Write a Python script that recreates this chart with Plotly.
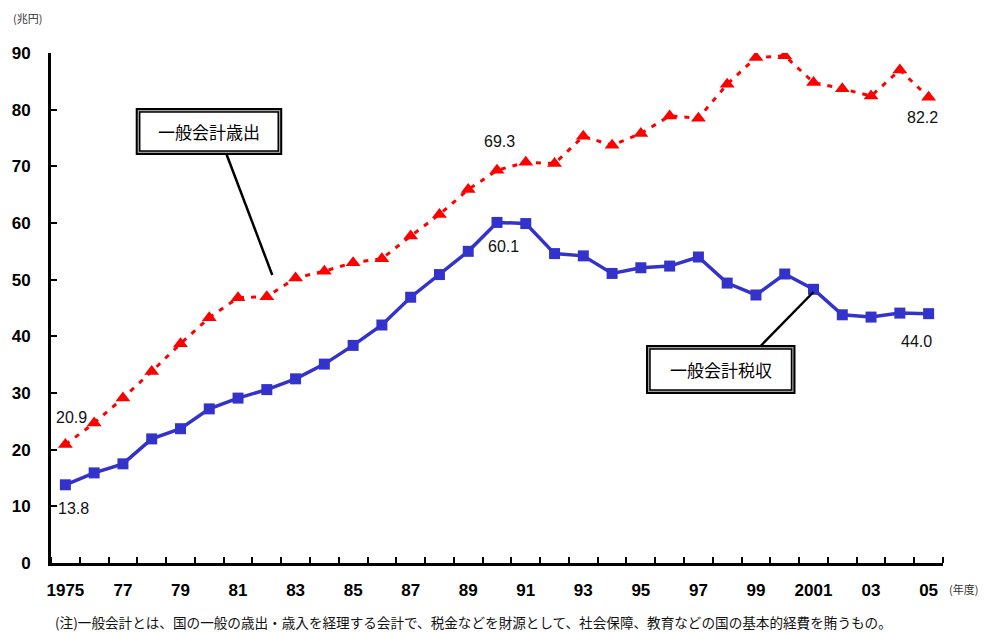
import plotly.graph_objects as go

# Fiscal years 1975-2005
years = list(range(1975, 2006))

# General account expenditure (trillion yen)
expenditure = [20.9, 24.7, 29.1, 33.8, 38.7, 43.3, 46.8, 47.0, 50.3, 51.5,
               53.0, 53.7, 57.7, 61.5, 65.9, 69.3, 70.7, 70.5, 75.3, 73.7,
               75.8, 78.9, 78.5, 84.5, 89.2, 89.5, 84.8, 83.7, 82.4, 87.0,
               82.2]

# General account tax revenue (trillion yen)
tax_revenue = [13.8, 15.9, 17.5, 21.9, 23.7, 27.2, 29.1, 30.6, 32.5, 35.1,
               38.4, 42.0, 46.9, 50.9, 55.0, 60.1, 59.9, 54.6, 54.2, 51.1,
               52.1, 52.4, 54.0, 49.4, 47.3, 51.0, 48.3, 43.8, 43.4, 44.1,
               44.0]

# Axis labels
x_tick_years = list(range(1975, 2006, 2))
x_tick_text = ["1975", "77", "79", "81", "83", "85", "87", "89", "91", "93",
               "95", "97", "99", "2001", "03", "05"]
y_ticks = list(range(0, 91, 10))

exp_name = "一般会計歳出"
rev_name = "一般会計税収"
footnote = ("(注)一般会計とは、国の一般の歳出・歳入を経理する会計で、"
            "税金などを財源として、社会保障、教育などの国の基本的経費を賄うもの。")

NUM_FONT = "Liberation Sans Narrow, Liberation Sans, Arial"
JP_FONT = "Noto Sans CJK JP"

fig = go.Figure()

fig.add_trace(go.Scatter(
    x=years, y=expenditure, mode="lines+markers", name=exp_name,
    line=dict(color="#FF0000", width=3, dash="5px,7px"),
    marker=dict(symbol="triangle-up", size=13, color="#FF0000"),
))
fig.add_trace(go.Scatter(
    x=years, y=tax_revenue, mode="lines+markers", name=rev_name,
    line=dict(color="#3333CC", width=3.5),
    marker=dict(symbol="square", size=11, color="#3333CC"),
))

# Value labels on selected points
def value_label(x, y, dx, dy):
    fig.add_annotation(x=x, y=y, text=f"{y:.1f}", showarrow=False,
                       xshift=dx, yshift=dy,
                       font=dict(family=NUM_FONT, size=16, color="#111"))

i90 = years.index(1990)
value_label(years[0], expenditure[0], 6, 27)
value_label(years[0], tax_revenue[0], 8, -24)
value_label(years[i90], expenditure[i90], 2, 29)
value_label(years[i90], tax_revenue[i90], 6, -24)
value_label(years[-1], expenditure[-1], -6, -20)
value_label(years[-1], tax_revenue[-1], -12, -28)

# Pixel helpers for the plot area (48..943 x, 53..563 y)
L, R, T, B = 48, 943, 53, 563
def px(x):
    return (x - L) / (R - L)
def py(y):
    return (B - y) / (B - T)

def paper_text(x, y, text, size, color, xanchor="center", family=JP_FONT):
    fig.add_annotation(xref="paper", yref="paper", x=px(x), y=py(y),
                       xanchor=xanchor, yanchor="middle",
                       text=text, showarrow=False,
                       font=dict(family=family, size=size, color=color))

def callout(x0, y0, x1, y1, text, lx0, ly0, lx1, ly1):
    # leader line
    fig.add_shape(type="line", xref="paper", yref="paper",
                  x0=px(lx0), y0=py(ly0), x1=px(lx1), y1=py(ly1),
                  line=dict(color="black", width=2.5))
    # double-framed box
    fig.add_shape(type="rect", xref="paper", yref="paper",
                  x0=px(x0), y0=py(y1), x1=px(x1), y1=py(y0),
                  fillcolor="#A0A0A0", line=dict(color="black", width=2))
    fig.add_shape(type="rect", xref="paper", yref="paper",
                  x0=px(x0 + 3), y0=py(y1 - 3), x1=px(x1 - 3), y1=py(y0 + 3),
                  fillcolor="white", line=dict(color="black", width=1.5))
    paper_text((x0 + x1) / 2, (y0 + y1) / 2, text, 17, "black")

callout(134, 109, 279, 154, exp_name, 224, 154, 270, 275)
callout(646, 346, 794, 393, rev_name, 760, 346, 813, 292)

# Unit labels and footnote
paper_text(8, 18, "(兆円)", 11, "#333", xanchor="left")
paper_text(947, 589, "(年度)", 11, "#333", xanchor="left")
paper_text(50, 622, footnote, 13.6, "#111", xanchor="left")

fig.update_layout(
    width=984, height=633,
    margin=dict(l=L, r=984 - R, t=T, b=633 - B),
    paper_bgcolor="white", plot_bgcolor="white",
    showlegend=False,
    xaxis=dict(
        range=[1974.5, 2005.5], tickmode="array",
        tickvals=x_tick_years, ticktext=x_tick_text,
        ticks="", showgrid=False, zeroline=False,
        showline=True, linecolor="black", linewidth=3,
        ticklabelstandoff=10,
        tickfont=dict(family=NUM_FONT, size=17, color="black", weight="bold"),
        minor=dict(tick0=1974.5, dtick=1, ticks="inside", ticklen=6,
                   tickwidth=2, tickcolor="black", showgrid=False),
    ),
    yaxis=dict(
        range=[0, 90], tickmode="array", tickvals=y_ticks,
        ticks="inside", ticklen=6, tickwidth=2, tickcolor="black",
        showgrid=False, zeroline=False,
        showline=True, linecolor="black", linewidth=3,
        ticklabelstandoff=14,
        tickfont=dict(family=NUM_FONT, size=17, color="black", weight="bold"),
    ),
)

fig.write_html("out.html")
